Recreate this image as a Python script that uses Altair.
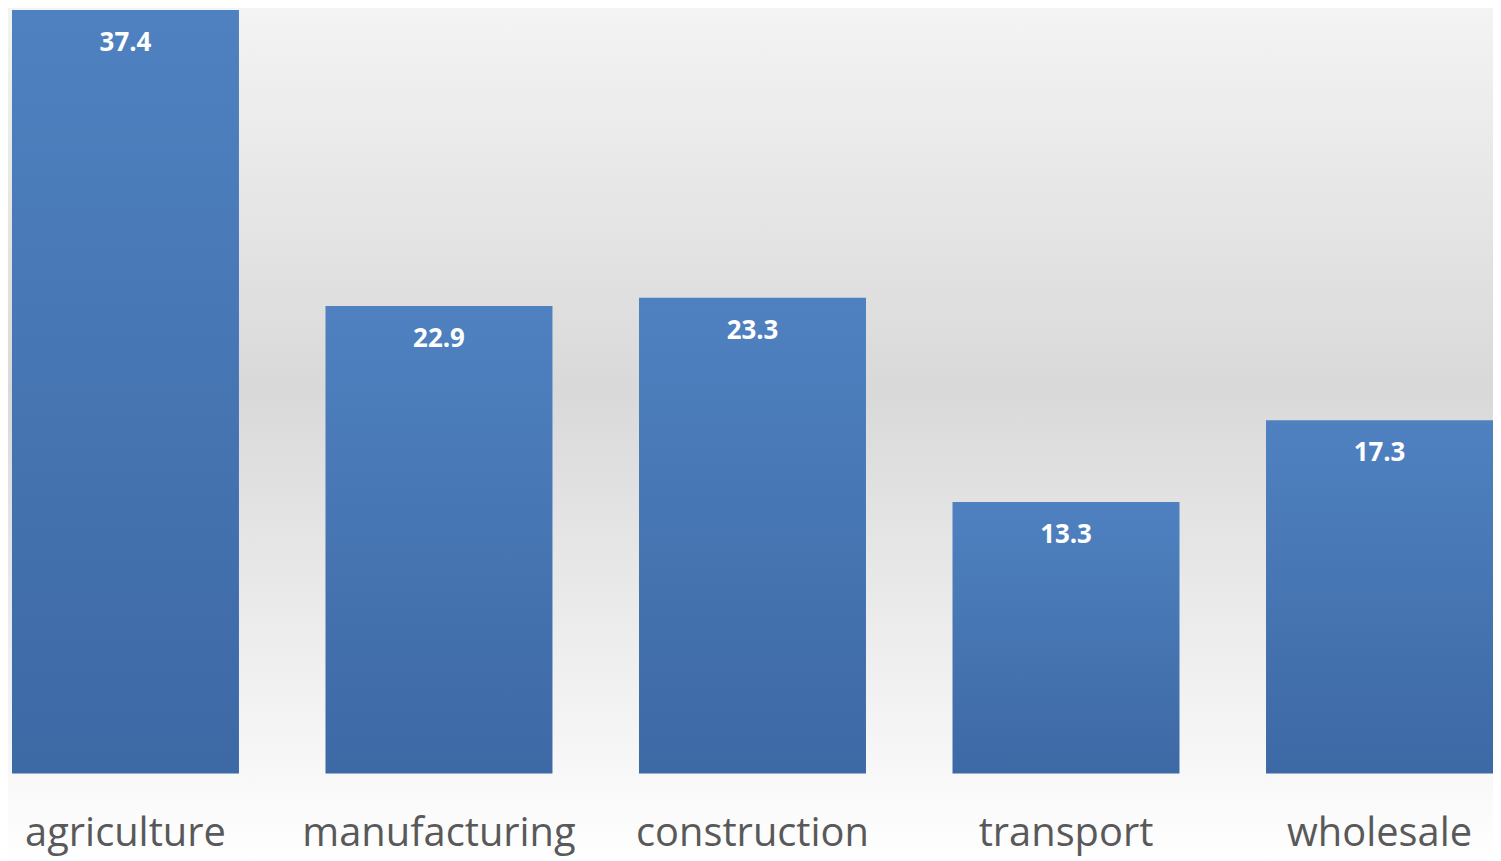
import altair as alt
import pandas as pd

categories = ['agriculture', 'manufacturing', 'construction', 'transport', 'wholesale']
values = [37.4, 22.9, 23.3, 13.3, 17.3]

df = pd.DataFrame({'sector': categories, 'value': values})

W, H = 1488, 767

bg = alt.Chart(pd.DataFrame({'a': [0]})).mark_rect(
    color=alt.Gradient(
        gradient='linear', x1=0, x2=0, y1=0, y2=1,
        stops=[alt.GradientStop(color='#f4f4f4', offset=0),
               alt.GradientStop(color='#d9d9d9', offset=0.45),
               alt.GradientStop(color='#ffffff', offset=1)]
    )
).encode(x=alt.value(-12), x2=alt.value(W + 20), y=alt.value(-8), y2=alt.value(H + 90))

x = alt.X('sector:N', sort=categories, title=None,
          scale=alt.Scale(paddingInner=0.276, paddingOuter=0),
          axis=alt.Axis(labelAngle=0, labelFontSize=40, labelColor='#595959',
                        labelFont='Open Sans', labelPadding=40, ticks=False,
                        labelLimit=0, domain=False, zindex=1))
y = alt.Y('value:Q', scale=alt.Scale(domain=[0, 37.4]), axis=None)

bars = alt.Chart(df).mark_bar(
    color=alt.Gradient(
        gradient='linear', x1=0, x2=0, y1=0, y2=1,
        stops=[alt.GradientStop(color='#4f81c0', offset=0),
               alt.GradientStop(color='#3d69a5', offset=1)]
    )
).encode(x=x, y=y)

labels = alt.Chart(df).mark_text(
    color='white', fontSize=26, fontWeight='bold', font='Open Sans',
    baseline='middle', dy=33
).encode(x=alt.X('sector:N', sort=categories), y=y, text=alt.Text('value:Q', format='.1f'))

chart = (bg + bars + labels).properties(
    width=W, height=H, autosize='none',
    padding={'left': 4, 'top': 0, 'right': 0, 'bottom': 90}
).configure_view(stroke=None)

chart.save("out.html", embed_options={"renderer": "svg", "actions": False})
